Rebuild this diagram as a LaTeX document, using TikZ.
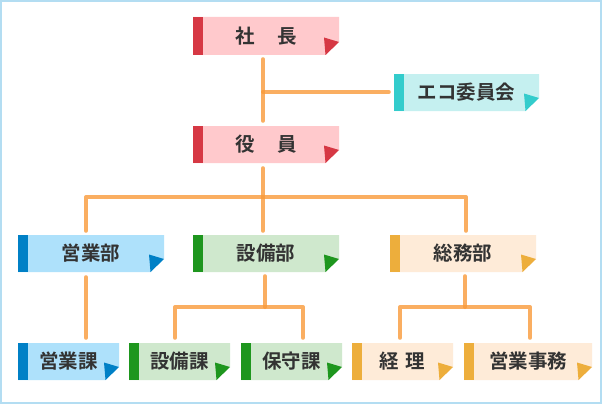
\documentclass[tikz,border=0pt]{standalone}
\usepackage{fontspec}
\setmainfont{Noto Sans CJK JP}[BoldFont={Noto Sans CJK JP Bold}]
\usetikzlibrary{calc}
\definecolor{txt}{HTML}{333333}
\definecolor{redbar}{HTML}{D63844}\definecolor{redfill}{HTML}{FFC9CC}
\definecolor{tealbar}{HTML}{33CCCC}\definecolor{tealfill}{HTML}{C5F0F0}
\definecolor{bluebar}{HTML}{0080C6}\definecolor{bluefill}{HTML}{AEE1FB}
\definecolor{greenbar}{HTML}{1E961E}\definecolor{greenfill}{HTML}{CFE8CD}
\definecolor{orgbar}{HTML}{EDAE3C}\definecolor{orgfill}{HTML}{FEEBD8}
\definecolor{connc}{HTML}{F99A3A}
\definecolor{frame}{HTML}{B3DDF2}
\tikzset{
  orgtext/.style={inner sep=0pt, text=txt, font=\fontsize{19.5}{21}\selectfont\bfseries},
  conn/.style={draw=connc, line width=4pt, opacity=0.8, line cap=round, line join=round},
}
% name, L, T, R, B, bar colour, fill colour, text
\newcommand\orgbox[8]{%
  \fill[#7] (#2,#3) -- (#4,#3) -- (#4,#5-13) -- (#4-13.5,#5) -- (#2,#5) -- cycle;
  \fill[#6] (#2,#3) rectangle (#2+10,#5);
  \fill[#6] (#4-15,#5-17.5) -- (#4,#5-13) -- (#4-13.5,#5) -- cycle;
  \node[orgtext, minimum width={#4-#2}, minimum height={#5-#3}] (#1) at ({(#2+#4)/2},{(#3+#5)/2}) {#8};
}
\begin{document}
\begin{tikzpicture}[x=1pt,y=-1pt]
\useasboundingbox (0,0) rectangle (602,404);
\fill[white] (0,0) rectangle (602,404);
\draw[frame, line width=2pt] (1,1) rectangle (601,403);

\orgbox{shacho}{193}{17}{339}{55}{redbar}{redfill}{社\hspace{23pt}長}
\orgbox{eco}{394}{74}{539}{111}{tealbar}{tealfill}{エコ委員会}
\orgbox{yakuin}{193}{126}{339}{163}{redbar}{redfill}{役\hspace{23pt}員}
\orgbox{eigyobu}{18}{235}{164}{272}{bluebar}{bluefill}{営業部}
\orgbox{setsubibu}{193}{235}{339}{272}{greenbar}{greenfill}{設備部}
\orgbox{somubu}{390}{235}{536}{272}{orgbar}{orgfill}{総務部}
\orgbox{eigyoka}{18}{343}{119}{380}{bluebar}{bluefill}{営業課}
\orgbox{setsubika}{129}{343}{230}{380}{greenbar}{greenfill}{設備課}
\orgbox{hoshuka}{241}{343}{342}{380}{greenbar}{greenfill}{保守課}
\orgbox{keiri}{352}{343}{453}{380}{orgbar}{orgfill}{経\hspace{7pt}理}
\orgbox{jimu}{464}{343}{592}{380}{orgbar}{orgfill}{営業事務}

% junction coordinates
\coordinate (j1) at (263,92);
\coordinate (j2) at (263,197);
\coordinate (jL) at (86,197);
\coordinate (jR) at (466,197);
\coordinate (j3) at (265,307);
\coordinate (j3L) at (175,307);
\coordinate (j3R) at (303,307);
\coordinate (j4) at (465,307);
\coordinate (j4L) at (400,307);
\coordinate (j4R) at (530,307);

% top
\draw[conn] ($(shacho.south -| j1)+(0,4)$) -- ($(yakuin.north -| j1)+(0,-5)$);
\draw[conn] (j1) -- ($(eco.west |- j1)+(-5,0)$);
% departments
\draw[conn] ($(yakuin.south -| j2)+(0,5)$) -- ($(setsubibu.north -| j2)+(0,-4)$);
\draw[conn] ($(eigyobu.north -| jL)+(0,-4)$) |- (j2) -| ($(somubu.north -| jR)+(0,-4)$);
% sections
\draw[conn] ($(eigyobu.south -| jL)+(0,5)$) -- ($(eigyoka.north -| jL)+(0,-5)$);
\draw[conn] ($(setsubibu.south -| j3)+(0,4)$) -- (j3);
\draw[conn] ($(setsubika.north -| j3L)+(0,-5)$) |- (j3) -| ($(hoshuka.north -| j3R)+(0,-5)$);
\draw[conn] ($(somubu.south -| j4)+(0,4)$) -- (j4);
\draw[conn] ($(keiri.north -| j4L)+(0,-5)$) |- (j4) -| ($(jimu.north -| j4R)+(0,-5)$);
\end{tikzpicture}
\end{document}
